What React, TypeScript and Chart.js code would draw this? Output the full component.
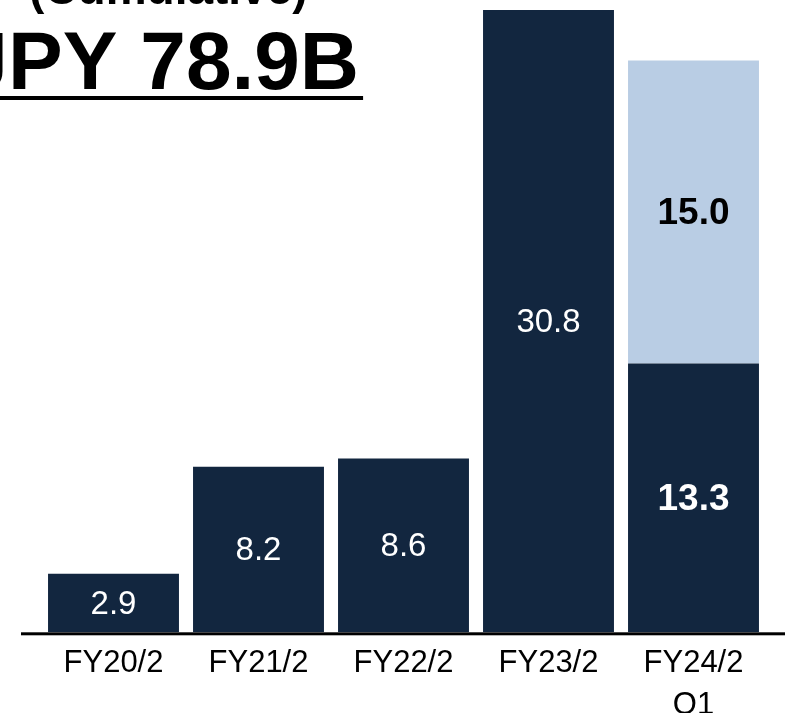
import React, { useEffect, useRef } from "react";
import { Chart, registerables } from "chart.js";

Chart.register(...registerables);

const categories: (string | string[])[] = ["FY20/2", "FY21/2", "FY22/2", "FY23/2", ["FY24/2", "Q1"]];
const actualValues: (number | null)[] = [2.9, 8.2, 8.6, 30.8, 13.3];
const forecastValues: (number | null)[] = [null, null, null, null, 15.0];
const totalLabel = "JPY 78.9B";
const subtitleLabel = "(Cumulative)";

const DARK = "#12263F";
const LIGHT = "#B9CDE4";
const FONT = '"Liberation Sans", Arial, sans-serif';

const W = 785;
const H = 735;

const overlayPlugin = {
  id: "overlay",
  afterDatasetsDraw(chart: any) {
    const ctx = chart.ctx;
    const y0 = chart.scales.y.getPixelForValue(0);
    ctx.save();
    // baseline
    ctx.fillStyle = "#000";
    ctx.fillRect(21, y0, W - 21, 3);
    // data labels
    chart.data.datasets.forEach((ds: any, di: number) => {
      const meta = chart.getDatasetMeta(di);
      meta.data.forEach((el: any, i: number) => {
        const v = ds.data[i];
        if (v === null || v === undefined) return;
        const bold = i === categories.length - 1;
        ctx.font = `${bold ? "bold " : ""}${bold ? 37 : 33}px ${FONT}`;
        ctx.fillStyle = di === 0 ? "#ffffff" : "#000000";
        ctx.textAlign = "center";
        ctx.textBaseline = "middle";
        ctx.fillText(v.toFixed(1), el.x, (el.y + el.base) / 2 + 1.5);
      });
    });
    // titles
    ctx.fillStyle = "#000";
    ctx.textAlign = "left";
    ctx.textBaseline = "alphabetic";
    ctx.font = `bold 46px ${FONT}`;
    ctx.fillText(subtitleLabel, 29, 4);
    ctx.font = `bold 82px ${FONT}`;
    const tx = -37.5;
    ctx.fillText(totalLabel, tx, 89);
    const tw = ctx.measureText(totalLabel).width;
    ctx.fillRect(0, 96, tx + tw + 4, 4);
    ctx.restore();
  },
};

export default function App() {
  const ref = useRef<HTMLCanvasElement | null>(null);
  useEffect(() => {
    if (!ref.current) return;
    const chart = new Chart(ref.current, {
      type: "bar",
      data: {
        labels: categories as any,
        datasets: [
          {
            label: "Actual",
            data: actualValues,
            backgroundColor: DARK,
            borderWidth: 0,
            barPercentage: 1,
            categoryPercentage: 0.903,
          },
          {
            label: "Q1",
            data: forecastValues,
            backgroundColor: LIGHT,
            borderWidth: 0,
            barPercentage: 1,
            categoryPercentage: 0.903,
          },
        ],
      },
      options: {
        responsive: false,
        animation: false,
        devicePixelRatio: 1,
        layout: { padding: { left: 41, right: 19, top: 0, bottom: 0 } },
        plugins: {
          legend: { display: false },
          tooltip: { enabled: false },
          title: { display: false },
        },
        scales: {
          x: {
            stacked: true,
            grid: { display: false, drawTicks: false },
            border: { display: false },
            ticks: {
              color: "#000",
              padding: 10.5,
              maxRotation: 0,
              autoSkip: false,
              font: { family: FONT, size: 31, lineHeight: 1.35 },
            },
          },
          y: {
            stacked: true,
            display: false,
            min: 0,
            max: 31.3,
          },
        },
      },
      plugins: [overlayPlugin],
    });
    return () => chart.destroy();
  }, []);
  return (
    <div
      style={{
        position: "fixed",
        left: 0,
        top: 0,
        width: W,
        height: 713,
        overflow: "hidden",
        background: "#fff",
      }}
    >
      <canvas ref={ref} width={W} height={H + 2} style={{ display: "block" }} />
    </div>
  );
}
